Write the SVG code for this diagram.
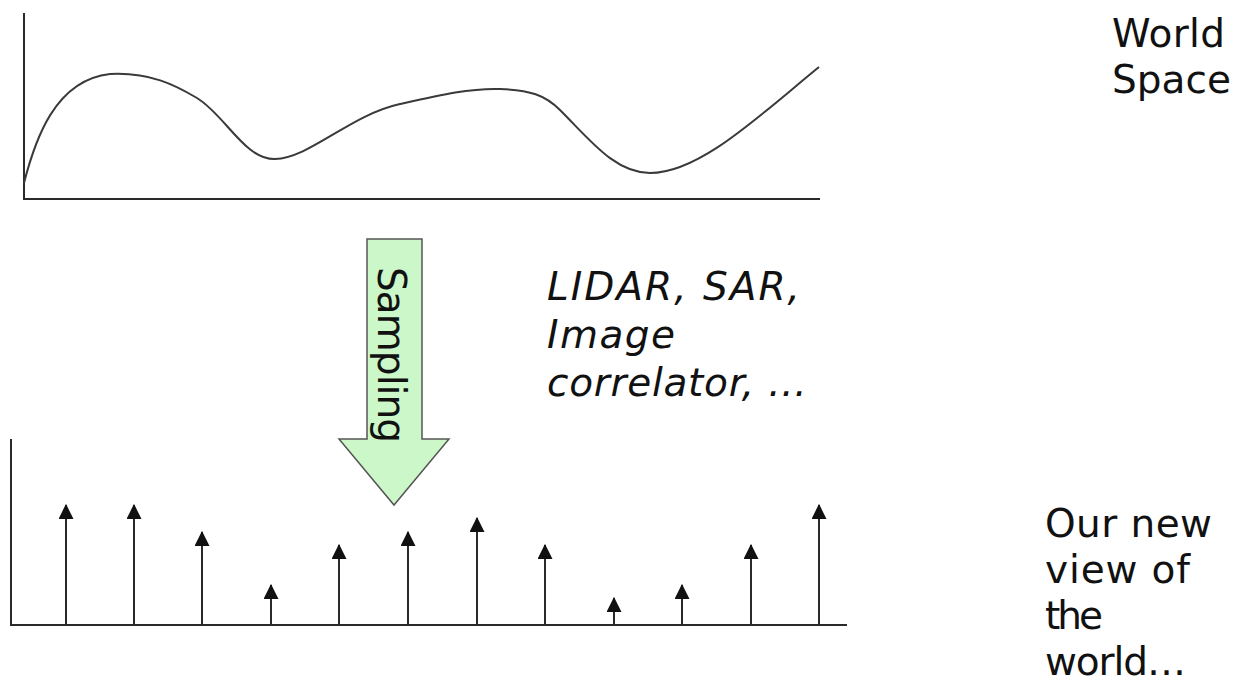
<svg xmlns="http://www.w3.org/2000/svg" width="1240" height="688" viewBox="0 0 1240 688">
  <style>
    .axis { stroke: #2a2a2a; stroke-width: 2; fill: none; }
    .curve { stroke: #3a3a3a; stroke-width: 2; fill: none; }
    .stem { stroke: #2a2a2a; stroke-width: 2; fill: none; marker-end: url(#tip); }
    .label { font-family: "DejaVu Sans", Verdana, sans-serif; font-size: 39px; fill: #111; }
    .italic { font-style: italic; }
    .big-arrow { fill: #ccf7c8; stroke: #555; stroke-width: 1.5; }
  </style>
  <defs>
    <marker id="tip" markerUnits="userSpaceOnUse" markerWidth="15" markerHeight="15" viewBox="0 0 14 14" refX="13" refY="7" orient="auto">
      <path d="M0,0 L14,7 L0,14 Z" fill="#111"/>
    </marker>
  </defs>
  <rect width="1240" height="688" fill="#fff"/>

  <!-- continuous signal in world space -->
  <g id="world-plot">
    <path class="axis" d="M24,13 L24,199 L820,199"/>
    <path class="curve" d="M24,183 C35,140 55,80 110,74 C150,72 175,85 197,98 C225,115 245,160 275,159 C310,158 350,115 400,104 C440,95 470,88 500,89 C530,90 545,95 560,110 C590,140 615,173 650,173 C700,173 760,115 819,67"/>
  </g>
  <g id="world-label">
    <text class="label" x="1112" y="47" textLength="113">World</text>
    <text class="label" x="1112" y="93" textLength="119">Space</text>
  </g>

  <!-- sampling step -->
  <g id="sampling-arrow">
    <path class="big-arrow" d="M367,239 L422,239 L422,439 L449,439 L394,505 L339,439 L367,439 Z"/>
    <text class="label" transform="translate(378,267) rotate(90)" textLength="176">Sampling</text>
  </g>
  <g id="sensors-label">
    <text class="label italic" x="547" y="300" textLength="253">LIDAR, SAR,</text>
    <text class="label italic" x="547" y="348" textLength="128">Image</text>
    <text class="label italic" x="547" y="396" textLength="260">correlator, …</text>
  </g>

  <!-- discrete samples -->
  <g id="sample-plot">
    <path class="axis" d="M11,439 L11,625 L847,625"/>
    <g id="samples">
      <line class="stem" x1="66" y1="625" x2="66" y2="505"/>
      <line class="stem" x1="134" y1="625" x2="134" y2="505"/>
      <line class="stem" x1="202" y1="625" x2="202" y2="532"/>
      <line class="stem" x1="271" y1="625" x2="271" y2="585"/>
      <line class="stem" x1="339" y1="625" x2="339" y2="545"/>
      <line class="stem" x1="408" y1="625" x2="408" y2="532"/>
      <line class="stem" x1="477" y1="625" x2="477" y2="518"/>
      <line class="stem" x1="545" y1="625" x2="545" y2="545"/>
      <line class="stem" x1="614" y1="625" x2="614" y2="598"/>
      <line class="stem" x1="682" y1="625" x2="682" y2="585"/>
      <line class="stem" x1="751" y1="625" x2="751" y2="545"/>
      <line class="stem" x1="819" y1="625" x2="819" y2="505"/>
    </g>
  </g>
  <g id="view-label">
    <text class="label" x="1045" y="537" textLength="167">Our new</text>
    <text class="label" x="1045" y="583" textLength="145">view of</text>
    <text class="label" x="1045" y="629" textLength="58">the</text>
    <text class="label" x="1045" y="675" textLength="141">world…</text>
  </g>
</svg>
